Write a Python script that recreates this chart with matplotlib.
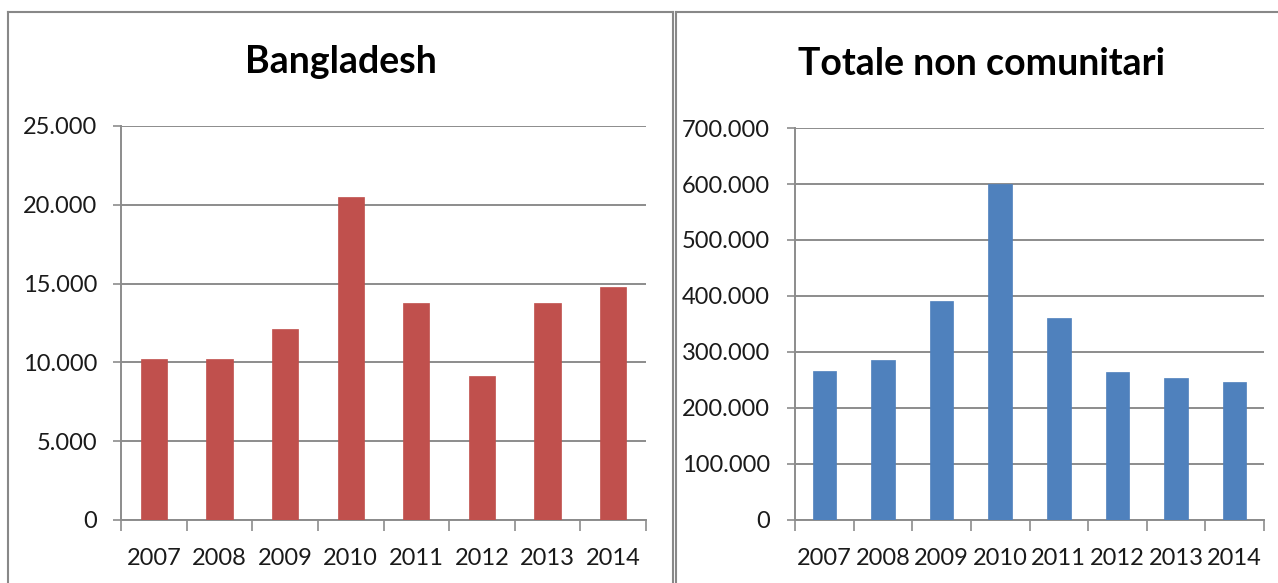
import matplotlib
matplotlib.use("Agg")
import matplotlib.pyplot as plt
from matplotlib.lines import Line2D
from matplotlib.ticker import FuncFormatter, FixedLocator

years = ["2007", "2008", "2009", "2010", "2011", "2012", "2013", "2014"]
bangladesh = [10200, 10200, 12150, 20500, 13800, 9150, 13800, 14800]
non_comunitari = [266500, 286000, 391000, 600000, 360500, 264000, 254000, 246000]
title_left = "Bangladesh"
title_right = "Totale non comunitari"
yticks_left = [0, 5000, 10000, 15000, 20000, 25000]
yticks_right = [0, 100000, 200000, 300000, 400000, 500000, 600000, 700000]

plt.rcParams['font.family'] = ['Lato', 'DejaVu Sans']

W, H = 1278, 583
fig = plt.figure(figsize=(W / 100, H / 100), dpi=100)

def fmt(v, pos):
    v = int(round(v))
    if v == 0:
        return "0"
    return f"{v:,}".replace(",", ".")

grid_c = "#8c8c8c"

def make_panel(rect, values, color, yticks, title, title_xy, ypad):
    ax = fig.add_axes(rect)
    x = list(range(len(years)))
    ax.bar(x, values, width=0.4, color=color, edgecolor=color, linewidth=0.5, zorder=3)
    ax.set_xlim(-0.5, len(years) - 0.5)
    ax.set_ylim(yticks[0], yticks[-1])
    ax.set_yticks(yticks)
    ax.yaxis.set_major_formatter(FuncFormatter(fmt))
    ax.set_xticks(x)
    ax.set_xticklabels(years)
    ax.xaxis.set_minor_locator(FixedLocator([i - 0.5 for i in range(len(years) + 1)]))
    ax.tick_params(axis='x', which='major', length=0, pad=20, labelsize=17, colors='#1a1a1a')
    ax.tick_params(axis='x', which='minor', length=8, width=1.2, color=grid_c)
    ax.tick_params(axis='y', which='major', length=6, width=1.2, color=grid_c, pad=ypad,
                   labelsize=17, labelcolor='#1a1a1a')
    ax.grid(axis='y', color=grid_c, linewidth=1.4, zorder=0)
    for s in ['top', 'right']:
        ax.spines[s].set_visible(False)
    for s in ['left', 'bottom']:
        ax.spines[s].set_color(grid_c)
        ax.spines[s].set_linewidth(1.4)
    fig.text(title_xy[0] / W, 1 - title_xy[1] / H, title, ha='center', va='center',
             fontsize=27, fontweight='bold', color='black')
    return ax

bottom = (H - 520) / H
make_panel([121 / W, bottom, 525 / W, 394 / H], bangladesh, "#C0504D", yticks_left,
           title_left, (341, 62), 11)
make_panel([795 / W, bottom, 469 / W, 392 / H], non_comunitari, "#4F81BD", yticks_right,
           title_right, (981, 64), 12)

# panel borders
bc = "#888888"
def fline(x0, y0, x1, y1):
    fig.add_artist(Line2D([x0 / W, x1 / W], [1 - y0 / H, 1 - y1 / H], color=bc, linewidth=1.5))

fline(8, 12, 673, 12)
fline(8, 12, 8, 600)
fline(673, 12, 673, 600)
fline(676, 12, 1290, 12)
fline(676, 12, 676, 600)

fig.savefig("out.png", dpi=100, facecolor="white")
